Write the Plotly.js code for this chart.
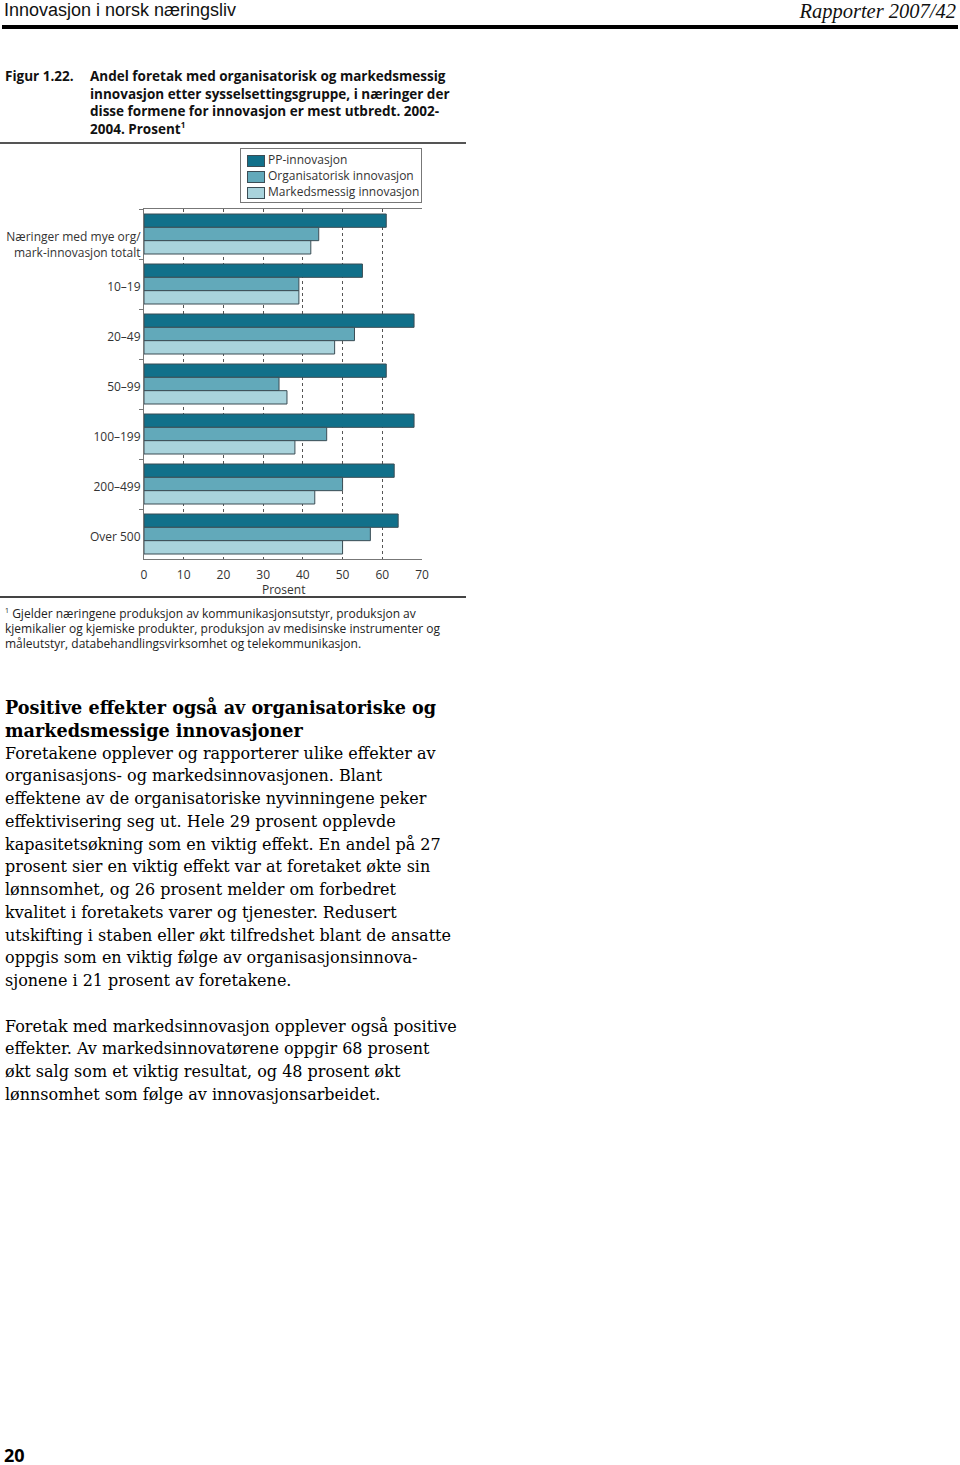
<!DOCTYPE html>
<html>
<head>
<meta charset="utf-8">
<script src="https://cdn.plot.ly/plotly-3.0.1.min.js"></script>
<style>
  html, body { margin:0; padding:0; background:#fff; }
  body { width:960px; height:1465px; position:relative; overflow:hidden; }
  .abs { position:absolute; white-space:nowrap; }
  .sans { font-family:"Open Sans", sans-serif; }
  .serif { font-family:"DejaVu Serif", serif; }
  .line { display:block; }
  #legend { left:240px; top:148px; width:180px; height:53px; border:1px solid #777; background:#fff; font-family:"Open Sans", sans-serif; font-size:12px; color:#333; }
  #legend .item { position:absolute; left:0; height:16px; line-height:16px; }
  #legend .sw { position:absolute; left:6px; top:3px; width:16px; height:10px; border:1px solid #3b4d55; }
  #legend .tx { position:absolute; left:27px; top:0; white-space:nowrap; }
</style>
</head>
<body>
<div class="abs" style="left:4px;top:0px;font-size:18px;line-height:normal;font-family:'Liberation Sans',sans-serif;color:#111;">Innovasjon i norsk næringsliv</div>
<div class="abs" style="right:4px;top:0px;font-size:20.5px;line-height:normal;font-style:italic;font-family:'Liberation Serif',serif;color:#111;">Rapporter 2007/42</div>
<div class="abs" style="left:2px;top:25px;width:956px;height:4px;background:#000;"></div>

<div class="abs sans" style="left:5px;top:68px;font-size:13.5px;font-weight:bold;color:#111;line-height:17.6px;">Figur 1.22.</div>
<div class="abs sans" style="left:90px;top:68px;font-size:13.5px;font-weight:bold;color:#111;line-height:17.6px;">
<span class="line">Andel foretak med organisatorisk og markedsmessig</span>
<span class="line">innovasjon etter sysselsettingsgruppe, i næringer der</span>
<span class="line">disse formene for innovasjon er mest utbredt. 2002-</span>
<span class="line">2004. Prosent<sup style="font-size:8px;vertical-align:6px;line-height:0;">1</sup></span>
</div>
<div class="abs" style="left:0px;top:142px;width:466px;height:2px;background:#555;"></div>

<div id="chart" class="abs" style="left:0px;top:140px;width:470px;height:470px;"></div>
<div id="legend" class="abs"></div>

<div class="abs" style="left:0px;top:596px;width:466px;height:2px;background:#444;"></div>
<div class="abs sans" style="left:5px;top:606px;font-size:12px;color:#222;line-height:15px;">
<span class="line"><sup style="font-size:7px;vertical-align:5px;line-height:0;">1</sup> Gjelder næringene produksjon av kommunikasjonsutstyr, produksjon av</span>
<span class="line">kjemikalier og kjemiske produkter, produksjon av medisinske instrumenter og</span>
<span class="line">måleutstyr, databehandlingsvirksomhet og telekommunikasjon.</span>
</div>

<div class="abs serif" style="left:5px;top:697px;font-size:16px;color:#000;line-height:22.75px;">
<span class="line" style="font-weight:bold;font-size:17.6px;">Positive effekter også av organisatoriske og</span>
<span class="line" style="font-weight:bold;font-size:17.6px;">markedsmessige innovasjoner</span>
<span class="line">Foretakene opplever og rapporterer ulike effekter av</span>
<span class="line">organisasjons- og markedsinnovasjonen. Blant</span>
<span class="line">effektene av de organisatoriske nyvinningene peker</span>
<span class="line">effektivisering seg ut. Hele 29 prosent opplevde</span>
<span class="line">kapasitetsøkning som en viktig effekt. En andel på 27</span>
<span class="line">prosent sier en viktig effekt var at foretaket økte sin</span>
<span class="line">lønnsomhet, og 26 prosent melder om forbedret</span>
<span class="line">kvalitet i foretakets varer og tjenester. Redusert</span>
<span class="line">utskifting i staben eller økt tilfredshet blant de ansatte</span>
<span class="line">oppgis som en viktig følge av organisasjonsinnova-</span>
<span class="line">sjonene i 21 prosent av foretakene.</span>
<span class="line">&nbsp;</span>
<span class="line">Foretak med markedsinnovasjon opplever også positive</span>
<span class="line">effekter. Av markedsinnovatørene oppgir 68 prosent</span>
<span class="line">økt salg som et viktig resultat, og 48 prosent økt</span>
<span class="line">lønnsomhet som følge av innovasjonsarbeidet.</span>
</div>

<div class="abs sans" style="left:4px;top:1446px;font-size:18px;line-height:18px;font-weight:bold;color:#000;">20</div>

<script>
const categories = ["&nbsp;<br>Næringer med mye org/<br>mark-innovasjon totalt", "10–19", "20–49", "50–99", "100–199", "200–499", "Over 500"];
const ppInnovasjon = [61, 55, 68, 61, 68, 63, 64];
const orgInnovasjon = [44, 39, 53, 34, 46, 50, 57];
const markInnovasjon = [42, 39, 48, 36, 38, 43, 50];
const seriesNames = ["PP-innovasjon", "Organisatorisk innovasjon", "Markedsmessig innovasjon"];
const xTicks = [0, 10, 20, 30, 40, 50, 60, 70];
const xTitle = "Prosent";

const colors = ["#11708a", "#62a9ba", "#a9d3dc"];
const seriesVals = [ppInnovasjon, orgInnovasjon, markInnovasjon];
const traces = seriesVals.map((vals, i) => ({
  type: "bar",
  orientation: "h",
  name: seriesNames[i],
  x: vals,
  y: categories,
  marker: { color: colors[i], line: { color: "#3b4d55", width: 1 } },
  hoverinfo: "x+name"
}));

// legend box (built from the series names and colours)
const leg = document.getElementById("legend");
seriesNames.forEach((n, i) => {
  const it = document.createElement("div");
  it.className = "item";
  it.style.top = (3 + i * 16) + "px";
  it.innerHTML = '<span class="sw" style="background:' + colors[i] + '"></span><span class="tx">' + n + '</span>';
  leg.appendChild(it);
});

const layout = {
  width: 470, height: 470,
  margin: { l: 144, r: 48, t: 69, b: 51 },
  paper_bgcolor: "rgba(0,0,0,0)",
  plot_bgcolor: "#fff",
  font: { family: "Open Sans, sans-serif", size: 12, color: "#333" },
  barmode: "group",
  bargap: 0.2,
  bargroupgap: 0,
  showlegend: false,
  xaxis: {
    range: [0, 70], tickvals: xTicks, ticktext: xTicks.map(String),
    showgrid: true, gridcolor: "#555", griddash: "dot", gridwidth: 1,
    zeroline: false, showline: true, linecolor: "#777", linewidth: 1, mirror: true,
    ticks: "", ticklabelstandoff: 5, tickfont: { size: 12, color: "#333" },
    fixedrange: true
  },
  yaxis: {
    type: "category", autorange: "reversed",
    showline: true, linecolor: "#777", linewidth: 1,
    showgrid: false, zeroline: false,
    ticks: "outside", tickson: "boundaries", ticklen: 4, tickcolor: "#777",
    ticklabelstandoff: 0, ticklabelshift: -3,
    tickfont: { size: 12, color: "#333" },
    fixedrange: true
  },
  annotations: [{
    text: xTitle, xref: "paper", yref: "paper", x: 0.5, y: 0,
    xanchor: "center", yanchor: "middle", yshift: -30, showarrow: false,
    font: { size: 12, color: "#333" }
  }]
};

Plotly.newPlot("chart", traces, layout, { displayModeBar: false, staticPlot: true });
</script>
</body>
</html>
